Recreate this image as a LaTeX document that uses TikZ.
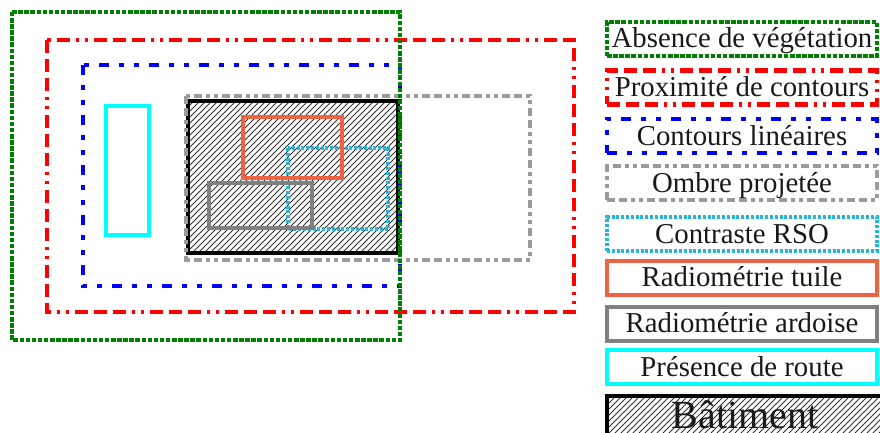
\documentclass[tikz,border=0pt]{standalone}
\usepackage{fontspec}
\setmainfont{Liberation Serif}
\definecolor{vgreen}{RGB}{0,128,0}
\definecolor{pred}{RGB}{255,0,0}
\definecolor{cblue}{RGB}{0,0,255}
\definecolor{ogray}{RGB}{155,155,155}
\definecolor{rsoblue}{RGB}{38,182,216}
\definecolor{tuilec}{RGB}{236,100,66}
\definecolor{agray}{RGB}{128,128,128}
\definecolor{routec}{RGB}{0,255,255}
\definecolor{txt}{RGB}{25,25,25}
\begin{document}
\begin{tikzpicture}[x=1pt,y=-1pt,
  veg/.style={draw=vgreen, line width=4pt, dash pattern=on 4.5pt off 1.6pt},
  prox/.style={draw=pred, line width=4.5pt, dash pattern=on 13pt off 6pt on 13pt off 6pt on 13pt off 6pt on 3pt off 6pt on 3pt off 6pt},
  cont/.style={draw=cblue, line width=4pt, dash pattern=on 10pt off 10pt on 5pt off 10pt on 5pt off 10pt},
  ombre/.style={draw=ogray, line width=4pt, dash pattern=on 8pt off 4pt on 8pt off 4pt on 4pt off 4pt on 4pt off 4pt},
  rso/.style={draw=rsoblue, line width=3.5pt, dash pattern=on 3pt off 1.8pt},
  tuile/.style={draw=tuilec, line width=4pt},
  ardoise/.style={draw=agray, line width=4pt},
  route/.style={draw=routec, line width=4.5pt},
  bat/.style={draw=black, line width=4pt},
  hatchline/.style={draw=black!80, line width=0.9pt},
  legbox/.style={minimum width=270pt, minimum height=34pt, inner sep=0pt,
    text height=20pt, text depth=2pt, font=\fontsize{28.8}{30}\selectfont, text=txt},
]
\clip (0,0) rectangle (880,433);
\useasboundingbox (0,0) rectangle (880,433);

% ---- main diagram ----
% building with hatching
\begin{scope}
  \clip (188,101) rectangle (398,253);
  \foreach \k in {30,36,...,400} \draw[hatchline] (\k,253) -- ++(160,-160);
\end{scope}
\draw[bat] (188,101) rectangle (398,253);

\draw[ombre] (186,96) rectangle (530,260);
\draw[rso] (288,148) rectangle (388,229);
\draw[tuile] (243,117) rectangle (342,178);
\draw[ardoise] (209,183) rectangle (312,228);
\draw[route] (106,106) rectangle (149,235);
\draw[cont] (83,65) rectangle (400,286);
\draw[prox] (47,40) rectangle (574,312);
\draw[veg] (12,12) rectangle (400,340);

% ---- legend ----
\node[legbox, veg] (l1) at (742,39) {Absence de végétation};
\node[legbox, prox] (l2) at (742,87.5) {Proximité de contours};
\node[legbox, cont] (l3) at (742,136) {Contours linéaires};
\node[legbox, ombre] (l4) at (742,183) {Ombre projetée};
\node[legbox, rso] (l5) at (742,234) {Contraste RSO};
\node[legbox, tuile] (l6) at (742,277.5) {Radiométrie tuile};
\node[legbox, ardoise] (l7) at (742,323.5) {Radiométrie ardoise};
\node[legbox, route] (l8) at (742,367) {Présence de route};

\begin{scope}
  \clip (607,396) rectangle (880,440);
  \foreach \k in {560,566,...,880} \draw[hatchline] (\k,440) -- ++(50,-50);
\end{scope}
\draw[black, line width=3.5pt] (607,440) -- (607,396) -- (882,396);
\node[anchor=base, font=\fontsize{40}{42}\selectfont, text=txt, inner sep=0pt, text depth=0pt] (l9) at (745,428.5) {Bâtiment};
\end{tikzpicture}
\end{document}
